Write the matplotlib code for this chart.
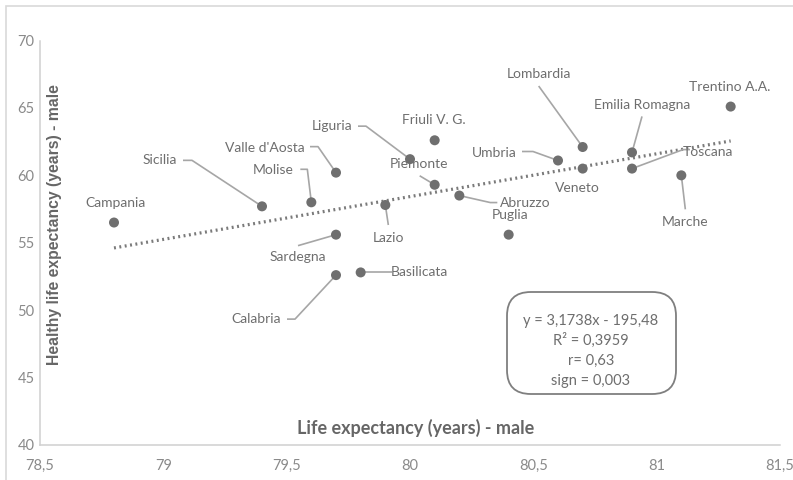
import matplotlib
matplotlib.use("Agg")
import matplotlib.pyplot as plt
from matplotlib.patches import FancyBboxPatch, Rectangle
import numpy as np

# Regional data: life expectancy vs healthy life expectancy (male)
regions = ["Campania", "Sicilia", "Molise", "Valle d'Aosta", "Sardegna", "Calabria",
           "Basilicata", "Lazio", "Liguria", "Friuli V. G.", "Piemonte", "Abruzzo",
           "Puglia", "Umbria", "Lombardia", "Veneto", "Emilia Romagna", "Toscana",
           "Marche", "Trentino A.A."]
life_exp = [78.8, 79.4, 79.6, 79.7, 79.7, 79.7, 79.8, 79.9, 80.0, 80.1, 80.1, 80.2,
            80.4, 80.6, 80.7, 80.7, 80.9, 80.9, 81.1, 81.3]
healthy_exp = [56.5, 57.7, 58.0, 60.2, 55.6, 52.6, 52.8, 57.8, 61.2, 62.6, 59.3, 58.5,
               55.6, 61.1, 62.1, 60.5, 61.7, 60.5, 60.0, 65.1]

# Linear trend from the regression
slope = 3.1738
intercept = -195.48
stats_lines = ["y = 3,1738x - 195,48", "R\u00b2 = 0,3959", "r= 0,63", "sign = 0,003"]

x_ticks = [78.5, 79, 79.5, 80, 80.5, 81, 81.5]
y_ticks = [40, 45, 50, 55, 60, 65, 70]

# Label placement in pixels relative to each point (right, down), and leader line vertices
label_offsets = {
    "Campania": ((1, -20), []),
    "Sicilia": ((-102, -46), [(-79, -46), (-70, -46)]),
    "Molise": ((-38, -32), [(-11, -33), (-4, -33)]),
    "Valle d'Aosta": ((-71, -25), [(-26, -26), (-18, -26)]),
    "Sardegna": ((-38, 22), [(-38, 11)]),
    "Calabria": ((-80, 44), [(-49, 44), (-41, 44)]),
    "Basilicata": ((59, 0), [(31, 0)]),
    "Lazio": ((3, 33), [(3, 20)]),
    "Liguria": ((-78, -33), [(-52, -33), (-44, -33)]),
    "Friuli V. G.": ((-1, -20), []),
    "Piemonte": ((-16, -21), [(-15, -9)]),
    "Abruzzo": ((66, 7), [(38, 7), (31, 7)]),
    "Puglia": ((1, -20), []),
    "Umbria": ((-64, -8), [(-36, -9), (-25, -9)]),
    "Lombardia": ((-44, -73), [(-44, -61)]),
    "Veneto": ((-5, 19), []),
    "Emilia Romagna": ((10, -47), [(10, -36)]),
    "Toscana": ((76, -17), [(58, -19), (51, -19)]),
    "Marche": ((4, 47), [(4, 34)]),
    "Trentino A.A.": ((-1, -20), []),
}

W, H, DPI = 793, 480, 100
fig = plt.figure(figsize=(W / DPI, H / DPI), dpi=DPI)
fig.patch.set_facecolor("white")

# outer chart frame
fig.patches.append(Rectangle((6 / W, -0.1), 1.2, 1 - 6 / H + 0.1, transform=fig.transFigure,
                             fill=False, edgecolor="#d9d9d9", linewidth=1.2))

ax_left, ax_right, ax_top, ax_bottom = 40, 780, 40.5, 445
ax = fig.add_axes([ax_left / W, 1 - ax_bottom / H, (ax_right - ax_left) / W,
                   (ax_bottom - ax_top) / H])
ax.set_xlim(78.5, 81.5)
ax.set_ylim(40, 70)
ax.set_facecolor("none")

for side in ("top", "right"):
    ax.spines[side].set_visible(False)
for side in ("left", "bottom"):
    ax.spines[side].set_color("#d0d0d0")
    ax.spines[side].set_linewidth(1.1)

ax.set_xticks(x_ticks)
ax.set_yticks(y_ticks)
ax.set_xticklabels([f"{t:g}".replace(".", ",") for t in x_ticks])
ax.set_yticklabels([f"{t:g}" for t in y_ticks])
ax.tick_params(length=0, labelsize=10.5, labelcolor="#8a8a8a", pad=10)
for lab in ax.get_xticklabels() + ax.get_yticklabels():
    lab.set_family(["Lato", "DejaVu Sans"])
ax.tick_params(axis="y", pad=4)

# trend line over the data range
xs = np.array([min(life_exp), max(life_exp)])
ax.plot(xs, slope * xs + intercept, linestyle=(0, (0.6, 1.1)), color="#7a7a7a",
        linewidth=2.3, zorder=2)

# leader lines and labels
fig.canvas.draw()
to_data = ax.transData.inverted()
for name, x, y in zip(regions, life_exp, healthy_exp):
    (tdx, tdy), leader = label_offsets[name]
    px, py = ax.transData.transform((x, y))
    if leader:
        verts = [(px + dx, py - dy) for dx, dy in leader] + [(px, py)]
        dv = to_data.transform(np.array(verts))
        ax.plot(dv[:, 0], dv[:, 1], color="#a6a6a6", linewidth=1.2, zorder=2,
                solid_capstyle="butt")
    tx, ty = to_data.transform((px + tdx, py - tdy))
    ax.text(tx, ty, name, ha="center", va="center", fontsize=10,
            color="#6e6e6e", family=["Lato", "DejaVu Sans"], zorder=4)

ax.scatter(life_exp, healthy_exp, s=52, color="#6f6f6f", edgecolors="none", zorder=3)

# axis titles
fig.text(416 / W, 1 - 428 / H, "Life expectancy (years) - male", ha="center", va="center",
         fontsize=13, fontweight="bold", color="#666666", family=["Lato", "DejaVu Sans"])
fig.text(55 / W, 1 - 225 / H, "Healthy life expectancy (years) - male", ha="center",
         va="center", rotation=90, fontsize=11.3, fontweight="bold", color="#666666",
         family=["Liberation Sans", "DejaVu Sans"])

# regression statistics box
bx0, bx1, by0, by1 = 507, 676, 292, 394
fig.patches.append(FancyBboxPatch((bx0 / W, 1 - by1 / H), (bx1 - bx0) / W, (by1 - by0) / H,
                                  boxstyle="round,pad=0,rounding_size=0.03",
                                  transform=fig.transFigure, fill=False,
                                  edgecolor="#7f7f7f", linewidth=1.3,
                                  mutation_aspect=W / H))
line_y = [321, 340, 361, 381]
for txt, yy in zip(stats_lines, line_y):
    fig.text(591 / W, 1 - yy / H, txt, ha="center", va="center", fontsize=10.5,
             color="#6e6e6e", family=["Lato", "DejaVu Sans"])

fig.savefig("out.png", dpi=DPI, facecolor="white")
